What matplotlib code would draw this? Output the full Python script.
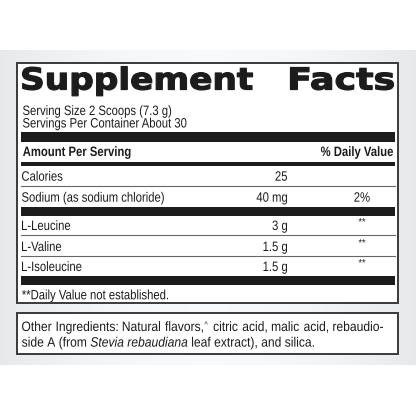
import numpy as np
import matplotlib.pyplot as plt
from matplotlib.font_manager import FontProperties
from matplotlib.textpath import TextPath
from matplotlib.patches import PathPatch, Rectangle
from matplotlib.transforms import Affine2D

plt.rcParams['mathtext.fontset'] = 'custom'
plt.rcParams['mathtext.rm'] = 'Liberation Sans'
plt.rcParams['mathtext.it'] = 'Liberation Sans:italic'

title_words = ['Supplement', 'Facts']
serving_lines = ['Serving Size 2 Scoops (7.3 g)', 'Servings Per Container About 30']
header = ['Amount Per Serving', '% Daily Value']
nutrients = ['Calories', 'Sodium (as sodium chloride)', 'L-Leucine', 'L-Valine', 'L-Isoleucine']
amounts = ['25', '40 mg', '3 g', '1.5 g', '1.5 g']
daily = ['', '2%', '**', '**', '**']
footnote = '**Daily Value not established.'
other_line1 = 'Other Ingredients: Natural flavors, citric acid, malic acid, rebaudio-'
caret_after = 'flavors,'
other_line2 = r'side A (from $\mathit{Stevia\ rebaudiana}$ leaf extract), and silica.'

ink = '#1c1c1c'

fig = plt.figure(figsize=(4.16, 4.16), dpi=100)
ax = fig.add_axes([0, 0, 1, 1])
ax.set_xlim(0, 416)
ax.set_ylim(416, 0)
ax.axis('off')


def text_path(s, size, weight='normal', family='Liberation Sans'):
    return TextPath((0, 0), s, size=size, prop=FontProperties(family=family, weight=weight))


def label(s, x, y, size=13.6, ha='left', weight='normal', xs=0.83,
          family='Liberation Sans', color=ink):
    # condensed text drawn as a path, y is the baseline
    tp = text_path(s, size, weight, family)
    ext = tp.get_extents()
    anchor = {'left': ext.x0, 'right': ext.x1, 'center': (ext.x0 + ext.x1) / 2}[ha]
    tr = Affine2D().translate(-anchor, 0).scale(xs, -1).translate(x, y)
    ax.add_patch(PathPatch(tr.transform_path(tp), fc=color, lw=0, zorder=3))
    return x + (ext.x1 - anchor) * xs


def fitted(s, x0, x1, base, cap, family='DejaVu Sans', weight='heavy'):
    tp = text_path(s, 40, weight, family)
    ext = tp.get_extents()
    capext = text_path('F', 40, weight, family).get_extents()
    sx = (x1 - x0 - 1) / ext.width
    sy = (cap - 1) / capext.y1
    tr = Affine2D().translate(-ext.x0, 0).scale(sx, -sy).translate(x0 + 0.5, base - 0.5)
    ax.add_patch(PathPatch(tr.transform_path(tp), fc=ink, ec=ink, lw=0.9,
                           joinstyle='round', zorder=3))


def justified(line, x0, x1, y, xs=0.89, size=13.6):
    words = line.split(' ')
    widths = [text_path(w, size).get_extents().width * xs for w in words]
    caret_w = 5.5
    widths = [wd + caret_w if w == caret_after else wd for w, wd in zip(words, widths)]
    gap = (x1 - x0 - sum(widths)) / (len(words) - 1)
    x = x0
    for w, wd in zip(words, widths):
        xe = label(w, x, y, size=size, xs=xs)
        if w == caret_after:
            label('^', xe + 1.5, y - 4, size=8, xs=0.9)
        x += wd + gap


# grey band with soft horizontal gradient
xg = np.linspace(-1, 1, 200)
g = 0.915 + 0.065 * (1 - xg ** 2)
img = np.clip(np.repeat(np.dstack([g * 0.99, g * 0.997, g * 1.004]), 2, axis=0), 0, 1)
ax.imshow(img, extent=(0, 416, 365, 50), aspect='auto', zorder=0)

ax.add_patch(Rectangle((17, 63), 381, 240, facecolor='white', edgecolor='#3a3a3a', lw=1.4, zorder=1))
ax.add_patch(Rectangle((17, 313), 381, 41, facecolor='white', edgecolor='#3a3a3a', lw=1.4, zorder=1))

# title
fitted(title_words[0], 22, 253, 90, 23)
fitted(title_words[1], 290, 394, 90, 23)

label(serving_lines[0], 23, 115)
label(serving_lines[1], 23, 127.5)

# rules
for y0, y1 in [(132, 142), (207, 216), (276, 285)]:
    ax.add_patch(Rectangle((21, y0), 374, y1 - y0, color=ink, lw=0, zorder=2))
ax.add_patch(Rectangle((21, 161.5), 374, 4, color=ink, lw=0, zorder=2))
for y in [186, 235, 256]:
    ax.plot([21, 395], [y, y], color='#666666', lw=0.8, zorder=2)

label(header[0], 23, 156, weight='bold')
label(header[1], 393, 156, weight='bold', ha='right')

row_base = [180.7, 201.7, 230, 251, 271]
for name, amt, dv, y in zip(nutrients, amounts, daily, row_base):
    label(name, 22, y)
    label(amt, 287, y, ha='right')
    if dv == '**':
        label(dv, 362, y - 5, size=10, ha='center', xs=0.9)
    elif dv:
        label(dv, 362, y, ha='center')

label(footnote, 22, 299.3)

# other ingredients box
justified(other_line1, 22, 383, 331)
label(other_line2, 22, 346.7, xs=0.89)

fig.savefig('out.png', dpi=100)
